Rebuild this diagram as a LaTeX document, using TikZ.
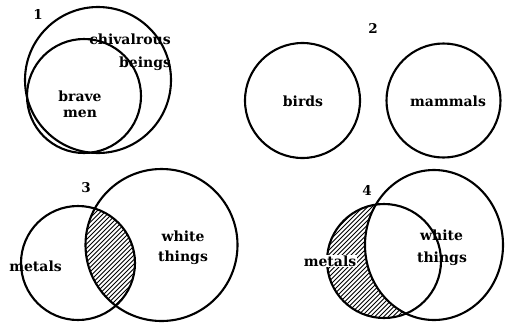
\documentclass[tikz,border=0pt]{standalone}
\usepackage{fontspec}
\setmainfont{DejaVu Serif}
\tikzset{
  ring/.style={draw=black, line width=2.1pt},
  hatch/.style={draw=black, line width=0.8pt},
  word/.style={inner sep=0pt, anchor=base, font=\fontsize{14}{16}\selectfont\bfseries},
  num/.style={inner sep=0pt, anchor=base, font=\fontsize{13.5}{15}\selectfont\bfseries},
}
\begin{document}
\begin{tikzpicture}[x=1pt, y=-1pt]
\useasboundingbox[fill=white] (0,0) rectangle (505,322);

% ---------- Diagram 1 ----------
\draw[ring] (98,80) circle [radius=73pt];
\draw[ring] (84,96) circle [radius=57pt];
\node[num] (l1) at (38,19) {1};
\node[word] (chiv) at (130,44) {chivalrous};
\node[word] (bein) at (145,67) {beings};
\node[word] (brav) at (80,101.5) {brave};
\node[word] (men) at (80,117) {men};

% ---------- Diagram 2 ----------
\draw[ring] (302.5,100.5) circle [radius=57.5pt];
\draw[ring] (443.5,100.5) circle [radius=57pt];
\node[num] (l2) at (373,33) {2};
\node[word] (bird) at (303,106) {birds};
\node[word] (mamm) at (448,106) {mammals};

% ---------- Diagram 3 ----------
\begin{scope}
  \clip (78,263) circle [radius=57pt];
  \clip (161.5,245) circle [radius=76pt];
  \foreach \c in {200,204.5,...,500} \draw[hatch] (\c,0) -- (\c-322,322);
\end{scope}
\draw[ring] (78,263) circle [radius=57pt];
\draw[ring] (161.5,245) circle [radius=76pt];
\node[num] (l3) at (86,192) {3};
\node[word] (met3) at (35.5,271) {metals};
\node[word] (whi3) at (183,241) {white};
\node[word] (thi3) at (183,261) {things};

% ---------- Diagram 4 ----------
\begin{scope}
  \clip (384,261) circle [radius=57pt];
  \foreach \c in {480,484.5,...,780} \draw[hatch] (\c,0) -- (\c-322,322);
  \fill[white] (434,245) ellipse [x radius=69pt, y radius=75pt];
\end{scope}
\draw[ring] (434,245) ellipse [x radius=69pt, y radius=75pt];
\draw[ring] (384,261) circle [radius=57pt];
\node[num] (l4) at (367,195) {4};
\node[word, fill=white, inner sep=0.5pt] (met4) at (330,266) {metals};
\node[word] (whi4) at (441.5,240) {white};
\node[word] (thi4) at (442,262) {things};
\end{tikzpicture}
\end{document}
